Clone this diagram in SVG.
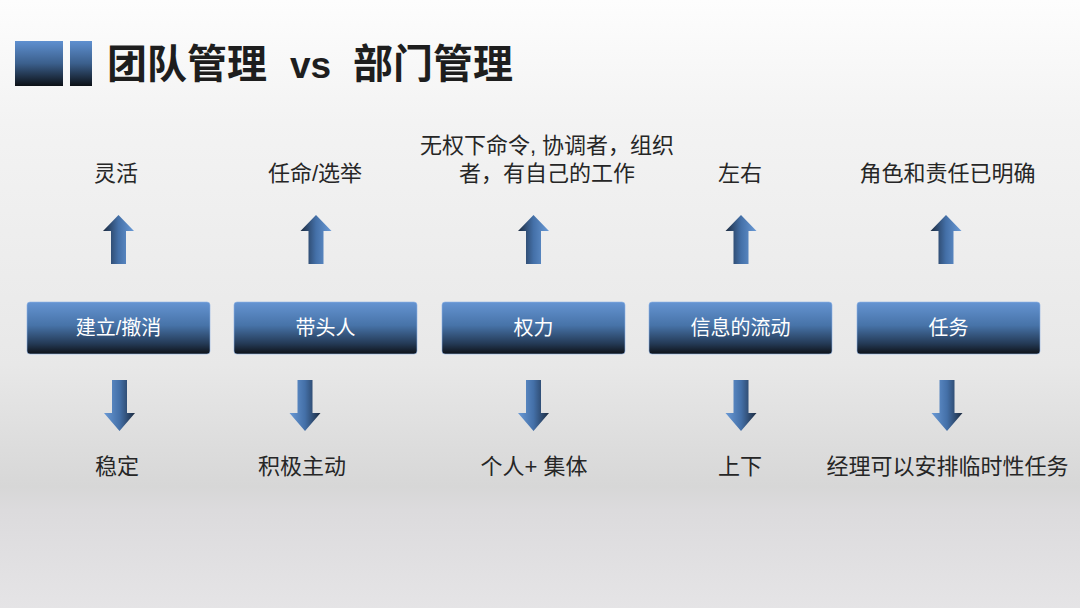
<svg xmlns="http://www.w3.org/2000/svg" width="1080" height="608" viewBox="0 0 1080 608">
<defs>
<linearGradient id="bg" x1="0" y1="0" x2="0" y2="1">
<stop offset="0" stop-color="#fdfdfd"/>
<stop offset="0.2" stop-color="#f3f3f3"/>
<stop offset="0.6" stop-color="#e8e8e8"/>
<stop offset="0.8" stop-color="#d7d7d7"/>
<stop offset="0.84" stop-color="#dcdbdd"/>
<stop offset="1" stop-color="#e5e4e6"/>
</linearGradient>
<linearGradient id="box" x1="0" y1="0" x2="0" y2="1">
<stop offset="0" stop-color="#6594d2"/>
<stop offset="0.45" stop-color="#4773a8"/>
<stop offset="0.8" stop-color="#243a56"/>
<stop offset="1" stop-color="#0e1218"/>
</linearGradient>
<linearGradient id="sq" x1="0" y1="0" x2="0" y2="1">
<stop offset="0" stop-color="#5f90d0"/>
<stop offset="0.5" stop-color="#3b5f8c"/>
<stop offset="1" stop-color="#0c1016"/>
</linearGradient>
<linearGradient id="arU" x1="0" y1="0" x2="1" y2="0">
<stop offset="0" stop-color="#1c2b40"/>
<stop offset="0.5" stop-color="#4470a8"/>
<stop offset="1" stop-color="#6a9ad6"/>
</linearGradient>
<linearGradient id="arD" x1="0" y1="0" x2="1" y2="0">
<stop offset="0" stop-color="#6a9ad6"/>
<stop offset="0.5" stop-color="#4470a8"/>
<stop offset="1" stop-color="#1c2b40"/>
</linearGradient>
<path id="up" d="M-7.5 264 L-7.5 231 L-15.5 231 L0 215 L15.5 231 L7.5 231 L7.5 264 Z"/>
<path id="down" d="M-7.5 380 L7.5 380 L7.5 413 L15.5 413 L0 431 L-15.5 413 L-7.5 413 Z"/>
</defs>
<style>
.t{font-family:"Liberation Sans","Noto Sans CJK SC",sans-serif;font-size:22px;fill:#262626;text-anchor:middle}
.b{font-family:"Liberation Sans","Noto Sans CJK SC",sans-serif;font-size:20px;fill:#ffffff;text-anchor:middle}
.title{font-family:"Liberation Sans","Noto Sans CJK SC",sans-serif;font-size:40px;font-weight:bold;fill:#1e1e1e}
.box{fill:url(#box);stroke:#8fb4e6;stroke-width:0.6}
.au{fill:url(#arU)}
.ad{fill:url(#arD)}
</style>
<rect width="1080" height="608" fill="url(#bg)"/>
<g id="title">
<rect x="15" y="41" width="48" height="45" fill="url(#sq)"/>
<rect x="70" y="41" width="22" height="45" fill="url(#sq)"/>
<text class="title" x="107" y="78">团队管理</text>
<text class="title" x="290" y="78" style="font-size:37px">vs</text>
<text class="title" x="353" y="78">部门管理</text>
</g>
<g id="connectors">
<use href="#up" class="au" x="118.5"/>
<use href="#up" class="au" x="316"/>
<use href="#up" class="au" x="533.5"/>
<use href="#up" class="au" x="741"/>
<use href="#up" class="au" x="946"/>
<use href="#down" class="ad" x="119.5"/>
<use href="#down" class="ad" x="305"/>
<use href="#down" class="ad" x="533.5"/>
<use href="#down" class="ad" x="741"/>
<use href="#down" class="ad" x="947"/>
</g>
<g id="n1">
<rect class="box" x="27" y="302" width="183" height="52" rx="3"/>
<text class="b" x="118.5" y="335">建立/撤消</text>
<text class="t" x="116" y="181">灵活</text>
<text class="t" x="117" y="474">稳定</text>
</g>
<g id="n2">
<rect class="box" x="234" y="302" width="183" height="52" rx="3"/>
<text class="b" x="325.5" y="335">带头人</text>
<text class="t" x="315" y="181">任命/选举</text>
<text class="t" x="302" y="474">积极主动</text>
</g>
<g id="n3">
<rect class="box" x="442" y="302" width="183" height="52" rx="3"/>
<text class="b" x="533.5" y="335">权力</text>
<text class="t" x="547" y="153">无权下命令, 协调者，组织</text>
<text class="t" x="547" y="181">者，有自己的工作</text>
<text class="t" x="534" y="474">个人+ 集体</text>
</g>
<g id="n4">
<rect class="box" x="649" y="302" width="183" height="52" rx="3"/>
<text class="b" x="740.5" y="335">信息的流动</text>
<text class="t" x="740" y="181">左右</text>
<text class="t" x="740" y="474">上下</text>
</g>
<g id="n5">
<rect class="box" x="857" y="302" width="183" height="52" rx="3"/>
<text class="b" x="948.5" y="335">任务</text>
<text class="t" x="947.5" y="181">角色和责任已明确</text>
<text class="t" x="947.5" y="474">经理可以安排临时性任务</text>
</g>
</svg>
